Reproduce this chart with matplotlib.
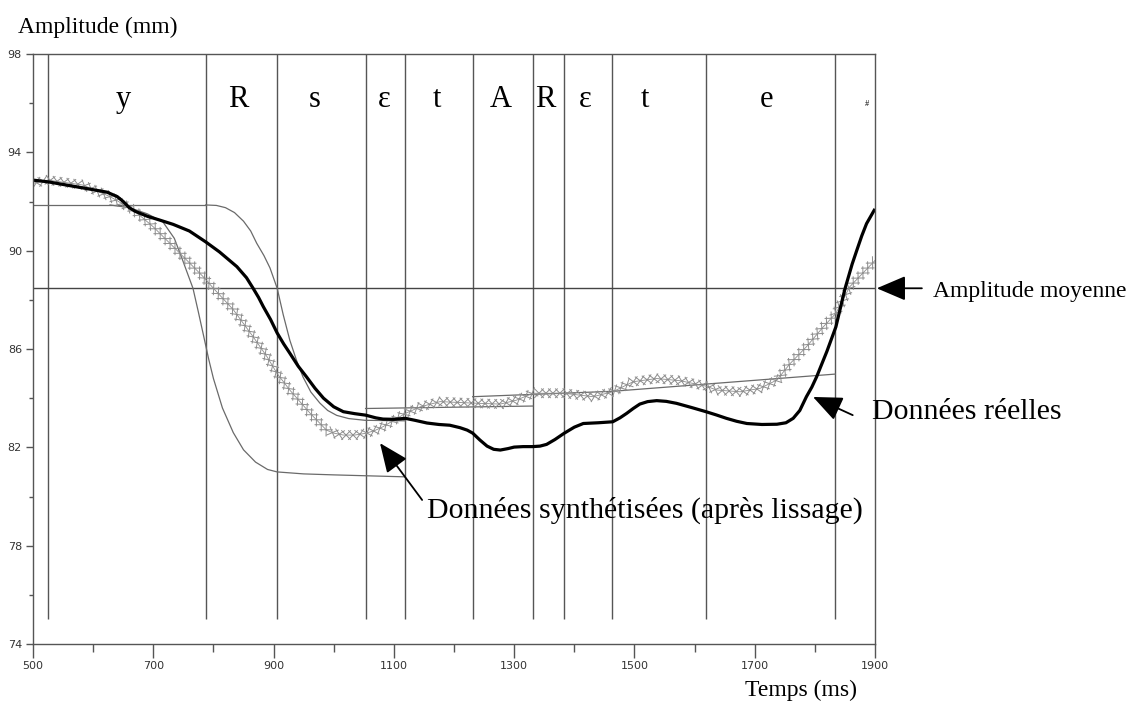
import matplotlib
matplotlib.use("Agg")
import matplotlib.pyplot as plt
from matplotlib.patheffects import TickedStroke, Normal

# segment boundaries (ms) and phonetic labels
bounds = [525, 787, 906, 1053, 1119, 1231, 1331, 1383, 1463, 1619, 1834]
seg_labels = ["y", "R", "s", "ε", "t", "A", "R", "ε", "t", "e", "#"]
seg_label_t = [650, 841, 968, 1084, 1171, 1278, 1352, 1418, 1517, 1720, 1886]

mean_amp = 88.47

# real data (thick black)
real_t = [500, 525, 560, 600, 623, 640, 650, 660, 670, 690, 710, 733, 760, 787, 810,
          839, 855, 866, 875, 883, 895, 906, 917, 927, 941, 955, 969, 983, 1000, 1016,
          1035, 1053, 1070, 1082, 1100, 1119, 1135, 1155, 1175, 1193, 1210, 1222,
          1231, 1243, 1255, 1266, 1277, 1290, 1300, 1315, 1331, 1343, 1354, 1368,
          1383, 1400, 1415, 1440, 1464, 1476, 1487, 1498, 1509, 1522, 1537, 1553,
          1570, 1595, 1619, 1636, 1653, 1670, 1687, 1712, 1737, 1752, 1764, 1775,
          1786, 1795, 1803, 1820, 1835, 1850, 1862, 1870, 1878, 1886, 1893, 1900]
real_v = [92.87, 92.8, 92.65, 92.48, 92.38, 92.2, 92.0, 91.75, 91.6, 91.4, 91.25,
          91.07, 90.8, 90.36, 89.95, 89.35, 88.9, 88.47, 88.1, 87.72, 87.2, 86.65,
          86.2, 85.83, 85.3, 84.86, 84.4, 84.0, 83.65, 83.45, 83.37, 83.31, 83.2,
          83.15, 83.14, 83.18, 83.1, 82.99, 82.93, 82.9, 82.8, 82.7, 82.58, 82.3,
          82.05, 81.92, 81.89, 81.95, 82.01, 82.03, 82.03, 82.05, 82.12, 82.32, 82.57,
          82.82, 82.97, 83.0, 83.04, 83.2, 83.38, 83.58, 83.76, 83.86, 83.9, 83.87,
          83.79, 83.62, 83.45, 83.32, 83.18, 83.06, 82.97, 82.93, 82.94, 83.0, 83.18,
          83.5, 84.06, 84.45, 84.87, 85.9, 86.9, 88.44, 89.45, 90.03, 90.6, 91.1,
          91.4, 91.7]

# synthesised data after smoothing (grey, crosses)
syn_t = [500, 525, 583, 628, 667, 700, 744, 783, 800, 833, 866, 889, 906, 927, 961,
         988, 1000, 1016, 1035, 1053, 1068, 1082, 1100, 1119, 1144, 1177, 1231, 1277,
         1304, 1331, 1383, 1431, 1464, 1498, 1537, 1576, 1619, 1637, 1676, 1709,
         1737, 1759, 1786, 1814, 1835, 1858, 1900]
syn_v = [92.74, 92.87, 92.67, 92.2, 91.65, 90.97, 89.9, 88.94, 88.47, 87.6, 86.5,
         85.69, 85.0, 84.33, 83.38, 82.7, 82.58, 82.5, 82.5, 82.57, 82.68, 82.84,
         83.1, 83.38, 83.65, 83.86, 83.8, 83.76, 83.92, 84.2, 84.2, 84.06, 84.26,
         84.67, 84.8, 84.71, 84.49, 84.33, 84.26, 84.4, 84.74, 85.41, 86.09, 86.9,
         87.45, 88.53, 89.6]

# target curves (thin grey)
tgt1_t = [500, 787]
tgt1_v = [91.86, 91.86]
early_t = [628, 660, 690, 716, 735, 749, 758, 766, 775, 784, 792, 800, 815, 833,
           850, 870, 890, 906, 950, 1000, 1119]
early_v = [91.86, 91.75, 91.5, 91.17, 90.5, 89.6, 89.0, 88.47, 87.5, 86.5, 85.6,
           84.8, 83.6, 82.6, 81.9, 81.4, 81.1, 81.0, 80.92, 80.88, 80.8]
late_t = [787, 805, 820, 835, 850, 862, 872, 884, 894, 906, 916, 927, 938, 949, 962,
          977, 990, 1005, 1025, 1052, 1119]
late_v = [91.86, 91.84, 91.75, 91.55, 91.2, 90.8, 90.3, 89.8, 89.3, 88.47, 87.4,
          86.36, 85.55, 84.86, 84.25, 83.8, 83.5, 83.3, 83.17, 83.1, 83.08]
tgt2_t = [1053, 1331]
tgt2_v = [83.58, 83.68]
tgt3_t = [1231, 1464]
tgt3_v = [84.06, 84.28]
tgt4_t = [1464, 1834]
tgt4_v = [84.28, 84.98]

fig = plt.figure(figsize=(11.46, 7.04), dpi=100)
ax = fig.add_axes([0.0288, 0.0852, 0.7347, 0.8381])

grey = "#555555"
ax.vlines(bounds, 75, 98, color=grey, lw=1.0)
ax.axhline(mean_amp, color="#444444", lw=1.0)

thin = dict(color="#6a6a6a", lw=0.9)
for tt, vv in [(tgt1_t, tgt1_v), (early_t, early_v), (late_t, late_v),
               (tgt2_t, tgt2_v), (tgt3_t, tgt3_v), (tgt4_t, tgt4_v)]:
    ax.plot(tt, vv, **thin)

# grey line with crosses drawn as ticks along the path
sp, ln, kc = 5.0, 0.9, "#8c8c8c"
ax.plot(syn_t, syn_v, color=kc, lw=0.6,
        path_effects=[Normal()] + [TickedStroke(spacing=sp, angle=a, length=ln,
                                                linewidth=0.7, foreground=kc)
                                   for a in (45, 135, -45, -135)])

ax.plot(real_t, real_v, color="black", lw=2.3, solid_capstyle="butt")

for lab, t in zip(seg_labels, seg_label_t):
    if lab == "#":
        ax.text(t, 95.95, lab, fontsize=6, ha="center", va="center",
                family="Liberation Serif")
    else:
        ax.text(t, 95.85, lab, fontsize=22, ha="center", va="baseline",
                family="Liberation Serif")

ax.set_xlim(500, 1900)
ax.set_ylim(74, 98)
ax.set_xticks(range(500, 1901, 200))
ax.set_xticks(range(600, 1900, 200), minor=True)
ax.set_yticks(range(74, 99, 4))
ax.set_yticks(range(76, 98, 4), minor=True)
for s in ax.spines.values():
    s.set_color("#555555")
    s.set_linewidth(1.0)
ax.tick_params(axis="x", which="major", length=10, width=1, color=grey, pad=2,
               labelsize=8, labelcolor="#333333")
ax.tick_params(axis="x", which="minor", length=5.5, width=1, color=grey)
ax.tick_params(axis="y", which="major", length=5, width=1, color=grey, pad=3,
               labelsize=8, labelcolor="#333333")
ax.tick_params(axis="y", which="minor", length=3, width=1, color=grey)

serif = "Liberation Serif"
fig.text(0.0157, 0.9616, "Amplitude (mm)", fontsize=17, family=serif, va="center")
fig.text(0.650, 0.020, "Temps (ms)", fontsize=17, family=serif, va="center")
fig.text(0.814, 0.5866, "Amplitude moyenne", fontsize=17, family=serif, va="center")
fig.text(0.761, 0.415, "Données réelles", fontsize=21.5, family=serif, va="center")
fig.text(0.3726, 0.2756, "Données synthétisées (après lissage)", fontsize=21.5,
         family=serif, va="center")

arrow = dict(arrowstyle="-|>,head_length=0.75,head_width=0.32", mutation_scale=24,
             color="black", lw=1.3, shrinkA=0, shrinkB=0)
ax.annotate("", xy=(1903, mean_amp), xytext=(1978, mean_amp), arrowprops=arrow,
            annotation_clip=False)
ax.annotate("", xy=(1797, 84.05), xytext=(1863, 83.31), arrowprops=arrow,
            annotation_clip=False)
ax.annotate("", xy=(1077, 82.17), xytext=(1147, 79.86), arrowprops=arrow,
            annotation_clip=False)

fig.savefig("out.png", dpi=100)
